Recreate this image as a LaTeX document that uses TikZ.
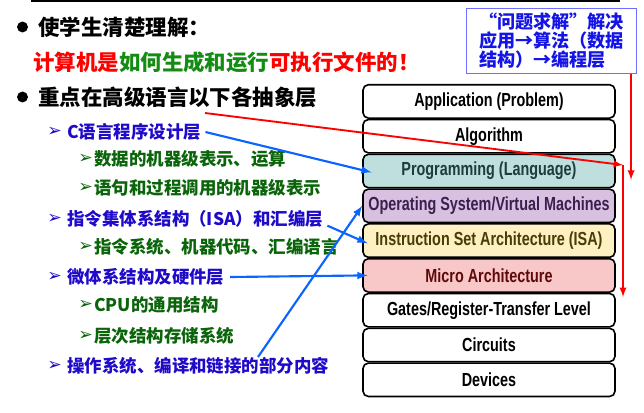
\documentclass[tikz,border=0pt]{standalone}
\usepackage{fontspec}
\setmainfont{Liberation Sans}
\newfontfamily\cjk{Noto Sans CJK SC}
\newfontfamily\symfont{DejaVu Sans}
\newfontfamily\layerfont[FakeStretch=0.76]{Liberation Sans}
\usepackage{xcolor}
\usetikzlibrary{positioning}

\definecolor{itemblue}{RGB}{30,10,200}
\definecolor{itemgreen}{RGB}{10,100,10}
\definecolor{keygreen}{RGB}{20,140,20}
\definecolor{linkblue}{RGB}{10,100,255}
\definecolor{notered}{RGB}{255,0,0}
\definecolor{goalblue}{RGB}{20,20,230}
\definecolor{goalframe}{RGB}{110,110,255}
\definecolor{progbg}{RGB}{190,223,221}
\definecolor{progfg}{RGB}{30,60,60}
\definecolor{osbg}{RGB}{216,193,224}
\definecolor{osfg}{RGB}{60,30,80}
\definecolor{isabg}{RGB}{253,240,194}
\definecolor{isafg}{RGB}{75,60,5}
\definecolor{microbg}{RGB}{248,200,200}
\definecolor{microfg}{RGB}{95,10,10}

\begin{document}
\begin{tikzpicture}[x=0.75pt, y=-0.75pt, >=latex,
    head/.style={anchor=west, inner sep=0pt, font=\cjk\bfseries\fontsize{16.1}{18}\selectfont},
    item/.style={anchor=west, inner sep=0pt, font=\cjk\bfseries\fontsize{13.1}{16}\selectfont},
    tick/.style={anchor=west, inner sep=0pt, font=\symfont\bfseries\fontsize{13}{14}\selectfont},
    dot/.style={circle, fill, inner sep=0pt, minimum size=8.2pt},
    layer/.style={draw, line width=1.2pt, rounded corners=4pt, minimum width=189pt,
        minimum height=25pt, inner sep=0pt, font=\layerfont\bfseries\fontsize{14.2}{16}\selectfont},
    link/.style={->, linkblue, line width=1.6pt},
    flow/.style={->, notered, line width=1.4pt}]

    \useasboundingbox (0,0) rectangle (644,412);

    % Rule at the top
    \draw[line width=0.8pt] (31,1) -- (620,1);

    % Main points
    \node[dot] (d1) at (22.5,27) {};
    \node[head] (aim) at (38,27) {使学生清楚理解：};
    \node[head] (aim2) at (33,62) {\color{notered}计算机是\color{keygreen}如何生成和运行\color{notered}可执行文件的！};
    \node[dot] (d2) at (22.5,97) {};
    \node[head] (focus) at (38,97) {重点在高级语言以下各抽象层};

    % Sub items
    \foreach \n/\y/\txt in {1/132/C语言程序设计层, 2/219/指令集体系结构（ISA）和汇编层,
        3/277/微体系结构及硬件层, 4/366/操作系统、编译和链接的部分内容} {
        \node[tick, text=itemblue] at (47,\y) {➢};
        \node[item, text=itemblue] (it\n) at (67,\y) {\txt};
    }
    \foreach \y/\txt in {159/数据的机器级表示、运算, 188/语句和过程调用的机器级表示,
        247/指令系统、机器代码、汇编语言, 305/CPU的通用结构, 336/层次结构存储系统} {
        \node[tick, text=itemgreen] at (78,\y) {➢};
        \node[item, text=itemgreen] at (94,\y) {\txt};
    }

    % Abstraction layers
    \foreach \n/\lab/\bg/\fg in {1/Application (Problem)/white/black, 2/Algorithm/white/black,
        3/Programming (Language)/progbg/progfg, 4/{Operating System/Virtual Machines}/osbg/osfg,
        5/Instruction Set Architecture (ISA)/isabg/isafg, 6/Micro Architecture/microbg/microfg,
        7/{Gates/Register-Transfer Level}/white/black, 8/Circuits/white/black, 9/Devices/white/black} {
        \node[layer, fill=\bg, text=\fg] (lay\n) at (489, {66.6+34.8*\n}) {\lab};
    }

    % Note box
    \node[draw=goalframe, line width=0.8pt, anchor=north west, align=left, text=goalblue,
        minimum width=127.5pt, minimum height=48pt, inner xsep=4pt,
        font=\cjk\bfseries\fontsize{13.6}{14.3}\selectfont] (goal) at (466,8)
        {“问题求解”解决\\应用→算法（数据\\结构）→编程层};

    % Red arrows
    \coordinate (from) at (205,113);
    \coordinate (bend) at (623,165);
    \coordinate (stop) at (623,297);
    \draw[flow] (from) -- (bend);
    \draw[flow] (bend) -- (stop);
    \draw[flow] ([xshift=-4.5pt]goal.south east) -- ++(0,106);

    % Blue arrows
    \draw[link] ([xshift=3pt]it1.east) -- ([xshift=7pt,yshift=-1pt]lay3.west);
    \draw[link] ([xshift=3pt,yshift=-5pt]it2.east) -- ([xshift=4pt,yshift=-2pt]lay5.west);
    \draw[link] ([xshift=4pt]it3.east) -- ([xshift=4pt]lay6.west);
    \coordinate (osfoot) at (258,357);
    \draw[link] (osfoot) -- (lay4.west);
\end{tikzpicture}
\end{document}
